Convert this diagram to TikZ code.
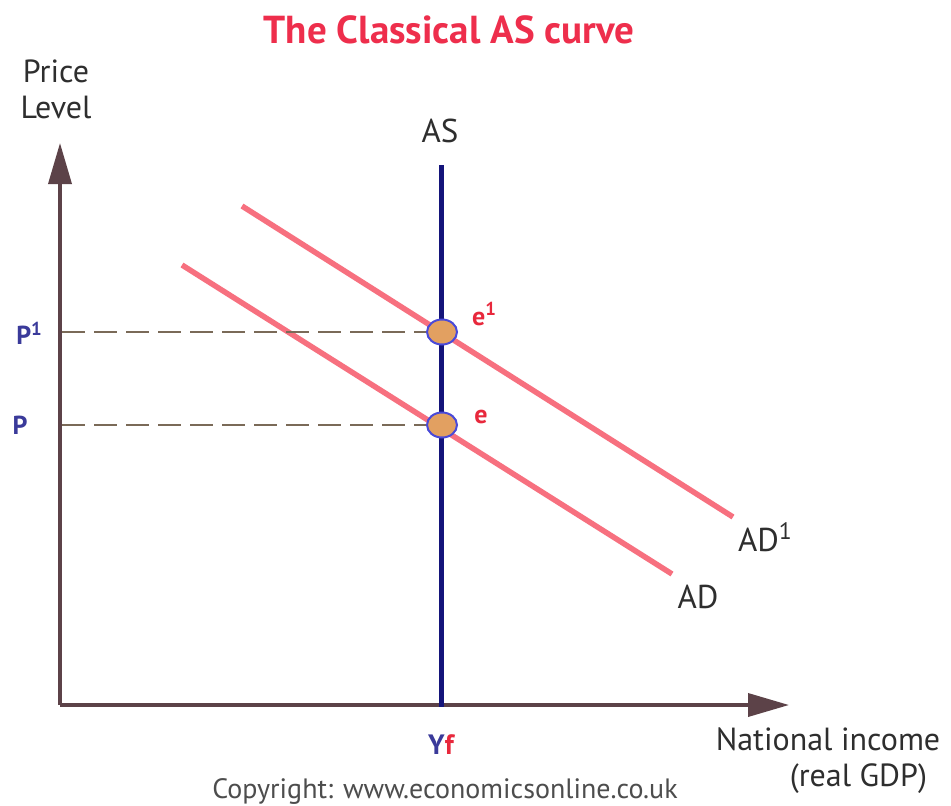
\documentclass[tikz,border=0pt]{standalone}
\usepackage{fontspec}
\setmainfont{PT Sans}
\usetikzlibrary{arrows.meta,shapes.geometric}
\definecolor{axiscol}{HTML}{5C4248}
\definecolor{asblue}{HTML}{14147A}
\definecolor{adpink}{HTML}{F7707F}
\definecolor{titlered}{HTML}{EE2E4C}
\definecolor{dashcol}{HTML}{7A6A58}
\definecolor{ptorange}{HTML}{E2A061}
\definecolor{ptblue}{HTML}{4A4AD8}
\definecolor{lblblue}{HTML}{3A3A9A}
\definecolor{lblred}{HTML}{E8283C}
\definecolor{txtgray}{HTML}{2E2E2E}
\newcommand{\supone}{\raisebox{0.35em}{\scalebox{0.72}{1}}}
\begin{document}
\begin{tikzpicture}[x=1pt,y=-1pt,
  axisline/.style={line width=3.6pt,draw=axiscol,-{Triangle[length=41pt,width=23pt]}},
  adline/.style={line width=5.5pt,draw=adpink},
  asline/.style={line width=5pt,draw=asblue},
  dashline/.style={line width=2.8pt,draw=dashcol,dash pattern=on 23pt off 9pt},
  eqpt/.style={ellipse,draw=ptblue,line width=2pt,fill=ptorange,minimum width=30pt,minimum height=25pt,inner sep=0pt},
  lbl/.style={font=\fontsize{33}{38}\selectfont,text=txtgray,inner sep=0pt},
  blbl/.style={font=\fontsize{26}{30}\selectfont\bfseries,inner sep=0pt}
]
\useasboundingbox[fill=white] (0,0) rectangle (951,806);
% axes
\coordinate (O) at (60,705);
\coordinate (ytip) at (60,143);
\coordinate (xtip) at (789,705);
\draw[axisline] (O) -- (ytip);
\draw[axisline] (O) -- (xtip);
% AD curves
\coordinate (ad1a) at (242,206);
\coordinate (ad1b) at (733,517);
\coordinate (ada) at (182,265);
\coordinate (adb) at (672,574);
\draw[adline] (ad1a) -- (ad1b);
\draw[adline] (ada) -- (adb);
% dashed
\coordinate (p1l) at (62,332);
\coordinate (pleft) at (62,425);
\coordinate (e1c) at (442,332);
\coordinate (ec) at (442,425);
\draw[dashline] (p1l) -- (e1c);
\draw[dashline] (pleft) -- (ec);
% AS
\coordinate (asTop) at (441,165);
\coordinate (asBot) at (441,707);
\draw[asline] (asTop) -- (asBot);
\node[eqpt] (e1) at (e1c) {};
\node[eqpt] (e) at (ec) {};
% labels
\node[font=\fontsize{39}{42}\selectfont\bfseries,text=titlered,inner sep=0pt] (title) at (449,30) {The Classical AS curve};
\node[lbl,align=center,font=\fontsize{32}{36}\selectfont] (pricelbl) at (56,89) {Price\\Level};
\node[lbl] (aslbl) at (440,131) {AS};
\node[lbl] (ad1lbl) at (765,537) {AD\supone};
\node[lbl] (adlbl) at (698,597) {AD};
\node[blbl,text=lblred] (e1lbl) at (484,314) {e\supone};
\node[blbl,text=lblred] (elbl) at (481,417) {e};
\node[blbl,text=lblblue] (p1lbl) at (29,333) {P\supone};
\node[blbl,text=lblblue] (plbl) at (20,425) {P};
\node[blbl,font=\fontsize{28}{30}\selectfont\bfseries] (yf) at (441,745) {\textcolor{lblblue}{Y}\textcolor{lblred}{f}};
\node[lbl,align=center,font=\fontsize{32}{36}\selectfont] (nat) at (828,761) {National income\\\hspace*{1.9em}(real GDP)};
\node[lbl,font=\fontsize{28}{30}\selectfont,text=txtgray!85] (copy) at (445,791) {Copyright: www.economicsonline.co.uk};
\end{tikzpicture}
\end{document}
